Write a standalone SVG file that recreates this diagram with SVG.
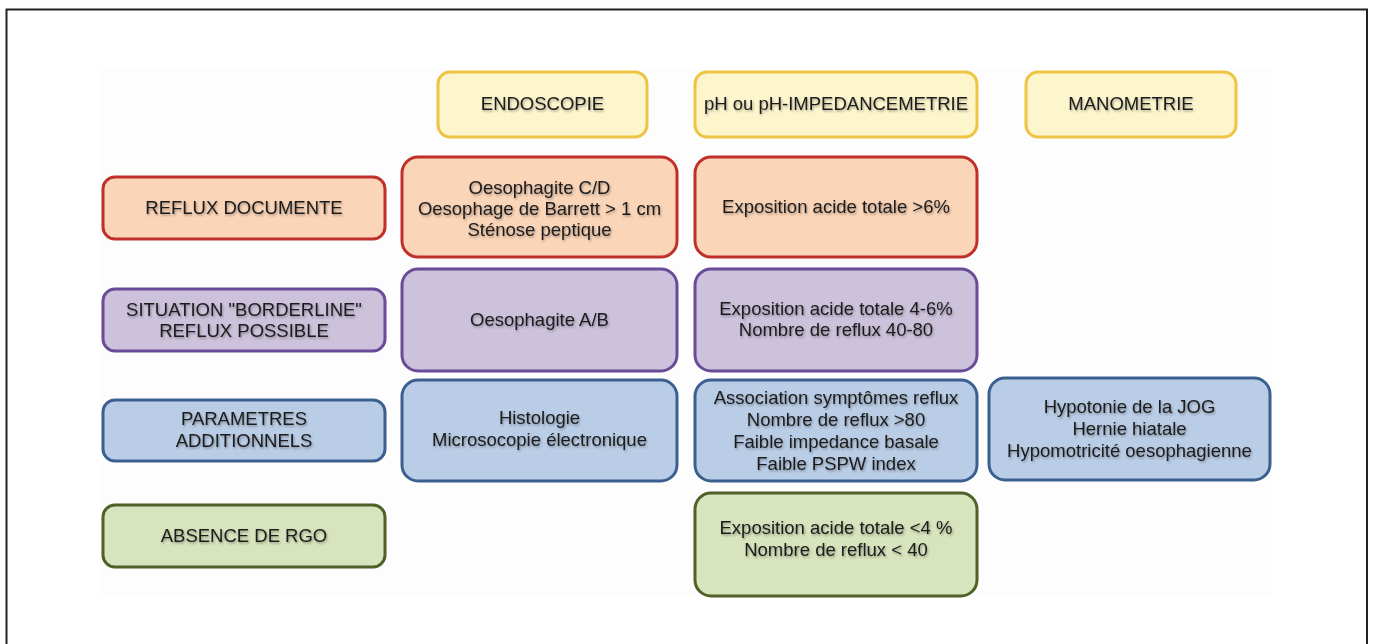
<svg xmlns="http://www.w3.org/2000/svg" width="1373" height="644" viewBox="0 0 1373 644">
<style>
.box{stroke-width:3}
.y{fill:#fdf6cd;stroke:#efc444}
.r{fill:#fbd5b8;stroke:#c0302a}
.p{fill:#cdc2dc;stroke:#6a4b98}
.b{fill:#bacde6;stroke:#3b6090}
.g{fill:#d8e4bd;stroke:#4f6128}
text{font-family:"Liberation Sans",Arial,sans-serif;font-size:18.5px;fill:#1c1c1c;text-anchor:middle;filter:url(#sh)}
</style>
<defs>
<filter id="sh" x="-10%" y="-30%" width="120%" height="160%">
<feDropShadow dx="1" dy="1.5" stdDeviation="1" flood-color="#000" flood-opacity="0.35"/>
</filter>
</defs>
<rect width="1373" height="644" fill="#ffffff"/>
<rect x="100" y="69" width="1173" height="526" fill="#fdfdfd"/>
<path d="M6.5,644 V9.5 H1367 V644" fill="none" stroke="#222" stroke-width="2"/>
<g id="connectors"></g>
<g id="endoscopie"><rect class="box y" x="438" y="72" width="209" height="65" rx="12"/><text x="542.5" y="110">ENDOSCOPIE</text></g>
<g id="phimpedance"><rect class="box y" x="695" y="72" width="282" height="65" rx="12"/><text x="836" y="110">pH ou pH-IMPEDANCEMETRIE</text></g>
<g id="manometrie"><rect class="box y" x="1026" y="72" width="210" height="65" rx="12"/><text x="1131" y="110">MANOMETRIE</text></g>

<g id="reflux-documente"><rect class="box r" x="103" y="177" width="282" height="62" rx="12"/><text x="244" y="214">REFLUX DOCUMENTE</text></g>
<g id="endo-red"><rect class="box r" x="402" y="157" width="275" height="100" rx="16"/><text x="539.5" y="194">Oesophagite C/D</text><text x="539.5" y="215">Oesophage de Barrett &gt; 1 cm</text><text x="539.5" y="236">Sténose peptique</text></g>
<g id="ph-red"><rect class="box r" x="695" y="157" width="282" height="100" rx="16"/><text x="836" y="213">Exposition acide totale &gt;6%</text></g>

<g id="borderline"><rect class="box p" x="103" y="289" width="282" height="62" rx="12"/><text x="244" y="316">SITUATION "BORDERLINE"</text><text x="244" y="337">REFLUX POSSIBLE</text></g>
<g id="endo-purple"><rect class="box p" x="402" y="269" width="275" height="102" rx="16"/><text x="539.5" y="326">Oesophagite A/B</text></g>
<g id="ph-purple"><rect class="box p" x="695" y="269" width="282" height="102" rx="16"/><text x="836" y="315">Exposition acide totale 4-6%</text><text x="836" y="336">Nombre de reflux 40-80</text></g>

<g id="parametres"><rect class="box b" x="103" y="400" width="282" height="61" rx="12"/><text x="244" y="425">PARAMETRES</text><text x="244" y="447">ADDITIONNELS</text></g>
<g id="endo-blue"><rect class="box b" x="402" y="380" width="275" height="101" rx="16"/><text x="539.5" y="424">Histologie</text><text x="539.5" y="446">Microsocopie électronique</text></g>
<g id="ph-blue"><rect class="box b" x="695" y="380" width="282" height="101" rx="16"/><text x="836" y="404">Association symptômes reflux</text><text x="836" y="426">Nombre de reflux &gt;80</text><text x="836" y="448">Faible impedance basale</text><text x="836" y="470">Faible PSPW index</text></g>
<g id="mano-blue"><rect class="box b" x="989" y="378" width="281" height="102" rx="16"/><text x="1129.5" y="413">Hypotonie de la JOG</text><text x="1129.5" y="435">Hernie hiatale</text><text x="1129.5" y="457">Hypomotricité oesophagienne</text></g>

<g id="absence-rgo"><rect class="box g" x="103" y="505" width="282" height="62" rx="12"/><text x="244" y="542">ABSENCE DE RGO</text></g>
<g id="ph-green"><rect class="box g" x="695" y="493" width="282" height="103" rx="16"/><text x="836" y="534">Exposition acide totale &lt;4 %</text><text x="836" y="556">Nombre de reflux &lt; 40</text></g>
</svg>
